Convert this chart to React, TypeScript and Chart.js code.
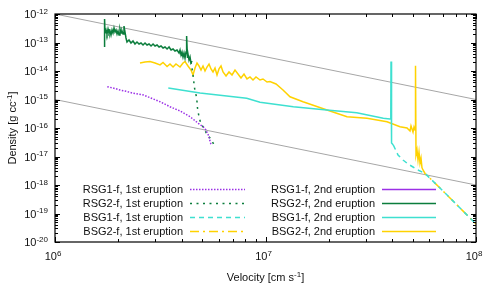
import { useEffect, useRef } from 'react';
import { Chart, registerables } from 'chart.js';

Chart.register(...registerables);

const FONT = '"Liberation Sans", Arial, Helvetica, sans-serif';

// axis ranges & ticks
const xRange = [1e6, 1e8];
const yRange = [1e-20, 1e-12];
const xTickValues = [1e6, 1e7, 1e8];
const yTickValues = [1e-20, 1e-19, 1e-18, 1e-17, 1e-16, 1e-15, 1e-14, 1e-13, 1e-12];

const seriesLabels = [
  'RSG1-f, 1st eruption',
  'RSG2-f, 1st eruption',
  'BSG1-f, 1st eruption',
  'BSG2-f, 1st eruption',
  'RSG1-f, 2nd eruption',
  'RSG2-f, 2nd eruption',
  'BSG1-f, 2nd eruption',
  'BSG2-f, 2nd eruption',
];

// ---- 1st eruption ----
const rsg1FirstV = [1.772e6, 1.928e6, 2.036e6, 2.198e6, 2.355e6, 2.628e6, 2.828e6, 3.155e6, 3.518e6, 3.926e6, 4.379e6, 4.795e6, 5.160e6, 5.349e6, 5.490e6, 5.539e6];
const rsg1FirstRho = [2.81e-15, 2.43e-15, 2.15e-15, 1.91e-15, 1.65e-15, 1.44e-15, 1.16e-15, 8.37e-16, 5.59e-16, 3.95e-16, 2.49e-16, 1.46e-16, 9.76e-17, 5.68e-17, 2.90e-17, 2.54e-17];

const rsg2FirstV = [4.427e6, 4.525e6, 4.600e6, 4.711e6, 4.753e6, 4.832e6, 4.939e6, 5.104e6, 5.257e6, 5.450e6, 5.649e6, 5.724e6];
const rsg2FirstRho = [2.07e-14, 7.24e-15, 2.54e-15, 1.13e-15, 5.03e-16, 2.43e-16, 1.38e-16, 1.0e-16, 6.16e-17, 4.46e-17, 2.90e-17, 2.34e-17];

const bsg1FirstV = [4.047e7, 4.262e7, 4.500e7, 4.753e7, 5.021e7, 5.361e7, 5.724e7, 6.745e7, 7.949e7, 9.365e7, 1e8];
const bsg1FirstRho = [2.54e-17, 1.13e-17, 7.53e-18, 5.46e-18, 4.28e-18, 3.23e-18, 2.54e-18, 7.85e-19, 2.34e-19, 6.95e-20, 4.28e-20];

const bsg2FirstV = [5.540e7, 5.724e7, 6.745e7, 7.949e7, 9.365e7, 1e8];
const bsg2FirstRho = [3.95e-18, 2.54e-18, 7.85e-19, 2.34e-19, 6.95e-20, 4.28e-20];

// ---- 2nd eruption ----
const rsg1SecondV: number[] = [];
const rsg1SecondRho: number[] = [];

const rsg2SecondV = [1.72e6, 1.72e6, 1.728e6, 1.747e6, 1.766e6, 1.786e6, 1.805e6, 1.825e6, 1.845e6, 1.866e6, 1.886e6, 1.907e6, 1.928e6, 1.949e6, 1.971e6, 1.992e6, 2.014e6, 2.036e6, 2.059e6, 2.081e6, 2.104e6, 2.127e6, 2.150e6, 2.174e6, 2.198e6, 2.247e6, 2.296e6, 2.347e6, 2.399e6, 2.452e6, 2.507e6, 2.562e6, 2.619e6, 2.677e6, 2.737e6, 2.797e6, 2.859e6, 2.923e6, 2.987e6, 3.054e6, 3.121e6, 3.190e6, 3.261e6, 3.332e6, 3.407e6, 3.482e6, 3.559e6, 3.638e6, 3.716e6, 3.800e6, 3.884e6, 3.926e6, 3.970e6, 4.013e6, 4.056e6, 4.101e6, 4.146e6, 4.192e6, 4.22e6, 4.26e6, 4.284e6, 4.332e6, 4.379e6, 4.427e6, 4.476e6];
const rsg2SecondRho = [6.95e-14, 6.68e-13, 2.15e-13, 2.75e-13, 1.99e-13, 2.98e-13, 2.15e-13, 2.54e-13, 1.83e-13, 2.75e-13, 2.15e-13, 3.23e-13, 2.34e-13, 2.75e-13, 1.99e-13, 2.54e-13, 1.83e-13, 2.98e-13, 2.15e-13, 2.54e-13, 1.99e-13, 3.79e-13, 2.34e-13, 1.44e-13, 1.04e-13, 1.22e-13, 9.60e-14, 1.13e-13, 8.86e-14, 1.04e-13, 8.86e-14, 9.60e-14, 8.17e-14, 9.60e-14, 8.17e-14, 8.86e-14, 7.53e-14, 8.86e-14, 7.53e-14, 8.17e-14, 6.95e-14, 7.53e-14, 6.41e-14, 6.95e-14, 5.92e-14, 6.95e-14, 5.46e-14, 5.92e-14, 5.03e-14, 5.46e-14, 4.28e-14, 5.46e-14, 3.64e-14, 4.64e-14, 3.10e-14, 4.28e-14, 2.86e-14, 4.64e-14, 1.69e-13, 2.86e-14, 3.95e-14, 2.43e-14, 3.10e-14, 1.91e-14, 2.24e-14];

const bsg1SecondV = [3.453e6, 4.885e6, 8.141e6, 9.417e6, 1.356e7, 1.953e7, 2.713e7, 3.627e7, 3.904e7, 3.938e7, 3.947e7, 3.970e7, 4.047e7];
const bsg1SecondRho = [2.54e-15, 1.69e-15, 1.10e-15, 7.98e-16, 5.59e-16, 4.28e-16, 3.44e-16, 2.19e-16, 2.07e-16, 3.36e-16, 2.15e-14, 2.98e-17, 2.54e-17];

const bsg2SecondV = [2.534e6, 2.677e6, 2.828e6, 2.987e6, 3.155e6, 3.26e6, 3.407e6, 3.518e6, 3.638e6, 3.756e6, 3.926e6, 4.056e6, 4.146e6, 4.284e6, 4.427e6, 4.525e6, 4.625e6, 4.727e6, 4.832e6, 4.939e6, 5.048e6, 5.160e6, 5.274e6, 5.391e6, 5.510e6, 5.631e6, 5.756e6, 5.884e6, 6.014e6, 6.147e6, 6.284e6, 6.493e6, 6.709e6, 6.933e6, 7.164e6, 7.403e6, 7.649e6, 7.904e6, 8.168e6, 8.441e6, 8.722e6, 9.013e6, 9.417e6, 9.730e6, 1.017e7, 1.050e7, 1.122e7, 1.211e7, 1.307e7, 1.507e7, 1.960e7, 2.439e7, 3.035e7, 3.777e7, 4.355e7, 4.702e7, 4.859e7, 4.912e7, 5.021e7, 5.076e7, 5.132e7, 5.160e7, 5.188e7, 5.245e7, 5.303e7, 5.361e7, 5.420e7, 5.480e7, 5.540e7];
const bsg2SecondRho = [1.91e-14, 2.07e-14, 2.15e-14, 1.91e-14, 1.63e-14, 1.99e-14, 1.44e-14, 1.76e-14, 1.38e-14, 1.76e-14, 1.38e-14, 1.91e-14, 2.15e-14, 1.50e-14, 1.08e-14, 7.24e-15, 1.27e-14, 1.91e-14, 1.50e-14, 1.08e-14, 1.50e-14, 1.0e-14, 1.38e-14, 1.76e-14, 1.18e-14, 9.22e-15, 1.27e-14, 7.24e-15, 1.18e-14, 1.50e-14, 9.22e-15, 6.68e-15, 9.22e-15, 7.24e-15, 1.08e-14, 7.85e-15, 5.68e-15, 7.85e-15, 5.24e-15, 6.16e-15, 4.83e-15, 6.16e-15, 4.83e-15, 5.24e-15, 4.11e-15, 4.28e-15, 3.50e-15, 2.15e-15, 1.25e-15, 8.37e-16, 4.28e-16, 2.49e-16, 2.19e-16, 1.66e-16, 1.11e-16, 1.0e-16, 7.85e-17, 1.18e-16, 7.24e-17, 1.08e-16, 8.51e-17, 1.53e-14, 1.13e-17, 1.69e-17, 7.53e-18, 1.44e-17, 5.92e-18, 8.86e-18, 3.95e-18];

// reference power-law guide lines
const guideV = [1e6, 1e8];
const guideUpperRho = [1e-12, 1e-15];
const guideLowerRho = [1e-15, 1e-18];

const PURPLE = '#9b30e6';
const GREEN = '#0b7d3c';
const CYAN = '#3ee0d0';
const GOLD = '#ffd200';
const GUIDE = '#a6a6a6';
const TEXT = '#111';

function pts(xs: number[], ys: number[]) {
  return xs.map((x, i) => ({ x, y: ys[i] }));
}

type Seg = { t: string; sup?: boolean };
const BASE_SIZE = 11;
const SUP_SIZE = 8;

function segWidth(ctx: CanvasRenderingContext2D, segs: Seg[]) {
  let w = 0;
  for (const s of segs) {
    ctx.font = `${s.sup ? SUP_SIZE : BASE_SIZE}px ${FONT}`;
    w += ctx.measureText(s.t).width;
  }
  return w;
}

// draws text with superscripts; x is left edge, y is baseline
function drawSegs(ctx: CanvasRenderingContext2D, segs: Seg[], x: number, y: number) {
  ctx.textAlign = 'left';
  ctx.textBaseline = 'alphabetic';
  let cx = x;
  for (const s of segs) {
    ctx.font = `${s.sup ? SUP_SIZE : BASE_SIZE}px ${FONT}`;
    ctx.fillText(s.t, cx, s.sup ? y - 4.5 : y);
    cx += ctx.measureText(s.t).width;
  }
}

function powSegs(v: number): Seg[] {
  const e = Math.round(Math.log10(v));
  return [{ t: '10' }, { t: String(e), sup: true }];
}

const framePlugin = {
  id: 'frameTicks',
  afterDraw(chart: any) {
    const { ctx, chartArea } = chart;
    const { left, right, top, bottom } = chartArea;
    const xs = chart.scales.x;
    const ys = chart.scales.y;
    ctx.save();
    ctx.strokeStyle = '#000';
    ctx.lineWidth = 1;
    // minor / major ticks, inward on all sides
    const drawTicks = (scale: any, horizontal: boolean) => {
      const lo = Math.round(Math.log10(scale.min));
      const hi = Math.round(Math.log10(scale.max));
      for (let d = lo; d <= hi; d++) {
        for (let m = 1; m <= 9; m++) {
          const v = m * Math.pow(10, d);
          if (v < scale.min * 0.999 || v > scale.max * 1.001) continue;
          const p = Math.round(scale.getPixelForValue(v)) + 0.5;
          const len = m === 1 ? 5 : 3;
          ctx.beginPath();
          if (horizontal) {
            ctx.moveTo(p, bottom); ctx.lineTo(p, bottom - len);
            ctx.moveTo(p, top); ctx.lineTo(p, top + len);
          } else {
            ctx.moveTo(left, p); ctx.lineTo(left + len, p);
            ctx.moveTo(right, p); ctx.lineTo(right - len, p);
          }
          ctx.stroke();
        }
      }
    };
    drawTicks(xs, true);
    drawTicks(ys, false);
    ctx.lineWidth = 1.2;
    ctx.strokeRect(left, top, right - left, bottom - top);

    ctx.fillStyle = TEXT;
    // tick labels
    for (const v of yTickValues) {
      const segs = powSegs(v);
      const w = segWidth(ctx, segs);
      const py = ys.getPixelForValue(v);
      drawSegs(ctx, segs, left - 7 - w, py + 4);
    }
    for (const v of xTickValues) {
      const segs = powSegs(v);
      const w = segWidth(ctx, segs);
      const px = xs.getPixelForValue(v);
      drawSegs(ctx, segs, px - 2 - w / 2, bottom + 18);
    }

    // axis titles
    const xt: Seg[] = [{ t: 'Velocity [cm s' }, { t: '-1', sup: true }, { t: ']' }];
    const xw = segWidth(ctx, xt);
    drawSegs(ctx, xt, (left + right) / 2 - xw / 2, 281);
    const yt: Seg[] = [{ t: 'Density [g cc' }, { t: '-1', sup: true }, { t: ']' }];
    const yw = segWidth(ctx, yt);
    ctx.save();
    ctx.translate(16, (top + bottom) / 2);
    ctx.rotate(-Math.PI / 2);
    drawSegs(ctx, yt, -yw / 2, 0);
    ctx.restore();

    // legend: two columns (1st eruption | 2nd eruption)
    const rows = [189, 203, 217, 231];
    chart.data.datasets.forEach((ds: any, i: number) => {
      if (!ds.label) return;
      const col = i < 4 ? 0 : 1;
      const row = i % 4;
      const y = rows[row];
      const textRight = col === 0 ? 183 : 375;
      const x0 = col === 0 ? 190 : 382;
      const x1 = col === 0 ? 245 : 436;
      ctx.fillStyle = TEXT;
      ctx.font = `${BASE_SIZE}px ${FONT}`;
      ctx.textAlign = 'right';
      ctx.textBaseline = 'middle';
      ctx.fillText(ds.label, textRight, y + 0.5);
      ctx.save();
      ctx.strokeStyle = ds.borderColor;
      ctx.lineWidth = ds.borderWidth;
      ctx.setLineDash(ds.borderDash || []);
      ctx.beginPath();
      ctx.moveTo(x0, y + 0.5);
      ctx.lineTo(x1, y + 0.5);
      ctx.stroke();
      ctx.restore();
    });
    ctx.restore();
  },
};

export default function App() {
  const ref = useRef<HTMLCanvasElement | null>(null);

  useEffect(() => {
    if (!ref.current) return;
    const base = { pointRadius: 0, tension: 0, fill: false, borderWidth: 1.5 };
    const chart = new Chart(ref.current, {
      type: 'line',
      data: {
        datasets: [
          { ...base, label: seriesLabels[0], data: pts(rsg1FirstV, rsg1FirstRho), borderColor: PURPLE, borderDash: [1.5, 1.5] },
          { ...base, label: seriesLabels[1], data: pts(rsg2FirstV, rsg2FirstRho), borderColor: GREEN, borderDash: [2, 4.5] },
          { ...base, label: seriesLabels[2], data: pts(bsg1FirstV, bsg1FirstRho), borderColor: CYAN, borderDash: [5, 4] },
          { ...base, label: seriesLabels[3], data: pts(bsg2FirstV, bsg2FirstRho), borderColor: GOLD, borderDash: [9, 4, 2, 4] },
          { ...base, label: seriesLabels[4], data: pts(rsg1SecondV, rsg1SecondRho), borderColor: PURPLE },
          { ...base, label: seriesLabels[5], data: pts(rsg2SecondV, rsg2SecondRho), borderColor: GREEN },
          { ...base, label: seriesLabels[6], data: pts(bsg1SecondV, bsg1SecondRho), borderColor: CYAN },
          { ...base, label: seriesLabels[7], data: pts(bsg2SecondV, bsg2SecondRho), borderColor: GOLD },
          { ...base, label: '', data: pts(guideV, guideUpperRho), borderColor: GUIDE, borderWidth: 1 },
          { ...base, label: '', data: pts(guideV, guideLowerRho), borderColor: GUIDE, borderWidth: 1 },
        ],
      },
      options: {
        responsive: false,
        animation: false,
        layout: { padding: { top: 14, right: 24, left: 0, bottom: 0 } },
        plugins: { legend: { display: false }, tooltip: { enabled: false } },
        scales: {
          x: {
            type: 'logarithmic',
            min: xRange[0],
            max: xRange[1],
            grid: { display: false, drawTicks: false },
            border: { display: false },
            afterBuildTicks: (s: any) => { s.ticks = xTickValues.map((value) => ({ value })); },
            afterFit: (s: any) => { s.height = 58; },
            ticks: { display: false },
          },
          y: {
            type: 'logarithmic',
            min: yRange[0],
            max: yRange[1],
            grid: { display: false, drawTicks: false },
            border: { display: false },
            afterBuildTicks: (s: any) => { s.ticks = yTickValues.map((value) => ({ value })); },
            afterFit: (s: any) => { s.width = 55; },
            ticks: { display: false },
          },
        },
      },
      plugins: [framePlugin],
    } as any);
    return () => chart.destroy();
  }, []);

  return (
    <div style={{ position: 'fixed', left: 0, top: 0, width: 500, height: 300, background: '#fff' }}>
      <canvas ref={ref} width={500} height={300} style={{ display: 'block' }} />
    </div>
  );
}
